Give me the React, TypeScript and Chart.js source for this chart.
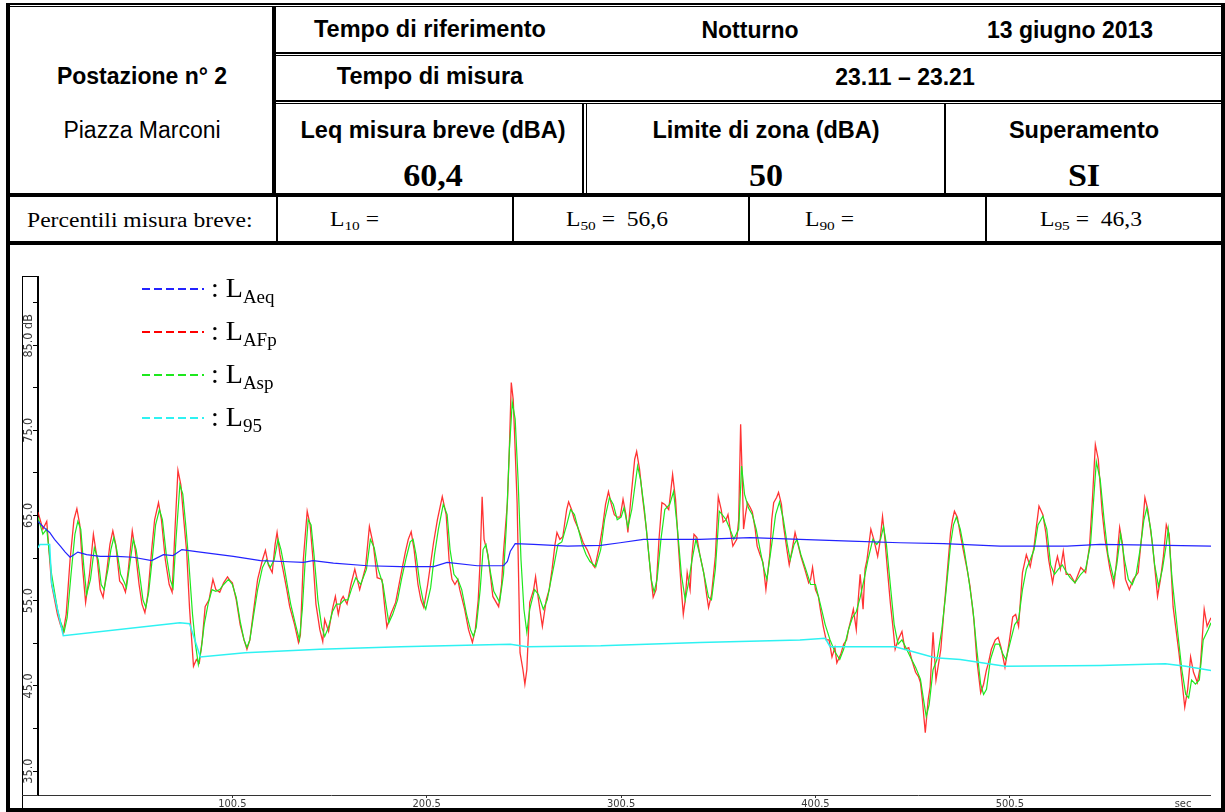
import React, { useEffect, useRef } from "react";
import { Chart, registerables } from "chart.js";

Chart.register(...registerables);

// ---------- DATA ----------
// time (s) / level (dB)
const xTickValues = [100.5, 200.5, 300.5, 400.5, 500.5];
const yTickValues = [35, 40, 45, 50, 55, 60, 65, 70, 75, 80, 85, 90];
const yLabelValues = [35, 45, 55, 65, 75, 85];
const yUnitValue = 85;
const xMin = 0.5;
const xMax = 604;
const yMin = 32.2;
const yMax = 93.1;

const seriesSubs = ["Aeq", "AFp", "Asp", "95"];
const seriesColors = ["#2323ff", "#ff0000", "#1ee81e", "#2ef2f2"];

const laeq: [number, number][] = [
  [0.5, 64.3], [3.5, 63.6], [6.5, 63.0], [9, 62.2], [12, 61.4], [14.5, 60.7], [17, 60.1], [19, 60.4],
  [21, 60.7], [25.5, 60.4], [32.5, 60.2], [41, 60.2], [49.5, 60.1], [59, 59.7], [65, 60.4], [70, 60.3],
  [74.5, 61.0], [84, 60.7], [101, 60.2], [115, 59.7], [126.5, 59.6], [137, 59.5], [142, 59.7], [152.5, 59.4],
  [170, 59.1], [187, 59.0], [204, 59.0], [211, 59.5], [226.5, 59.1], [240, 59.1], [242, 59.6], [243.5, 60.8],
  [246, 61.7], [255.5, 61.6], [273, 61.4], [290, 61.5], [300, 61.8], [312, 62.2], [341, 62.2], [367, 62.4],
  [392.5, 62.2], [418.5, 62.0], [444, 61.8], [466.5, 61.7], [495.5, 61.4], [530, 61.4], [547, 61.6],
  [581.5, 61.5], [604, 61.4],
];

const lafp: [number, number][] = [
  [0.5, 65.4], [3, 63.4], [5, 64.3], [7.5, 56.9], [10.5, 53.4], [12, 52.2], [13.5, 51.3], [15, 53.4],
  [17, 59.8], [19, 64.5], [20.5, 65.8], [22, 63.9], [23.5, 58.7], [25, 54.8], [27, 58.1], [29, 62.8],
  [31, 59.8], [32.5, 56.3], [34, 55.4], [36, 58.7], [37.5, 61.6], [39, 63.2], [40.5, 61.6], [42.5, 57.3],
  [44, 56.9], [45.5, 56.0], [47, 58.7], [49, 63.2], [50.5, 61.0], [52.5, 56.9], [54, 54.6], [55.5, 53.6],
  [57, 55.7], [59, 61.0], [60.5, 64.5], [62.5, 66.5], [64, 64.5], [66, 59.8], [68, 56.9], [69.5, 56.0],
  [71, 63.4], [72.5, 70.3], [74, 68.6], [75.5, 64.5], [77, 60.7], [78.5, 54.0], [80.5, 47.3], [82, 48.1],
  [83.5, 47.7], [85, 50.4], [86.5, 54.3], [88.5, 55.1], [90.5, 57.5], [92, 56.3], [94, 56.0], [96, 57.1],
  [98, 57.8], [99.5, 57.3], [100.5, 57.1], [102.5, 55.1], [104.5, 52.2], [106.5, 50.4], [108, 49.3],
  [109.5, 50.4], [111.5, 54.0], [113.5, 57.5], [116, 59.8], [117.5, 60.9], [119, 59.2], [121, 58.3],
  [122.5, 61.6], [123.5, 63.0], [125, 60.4], [126.5, 58.7], [128.5, 56.3], [130, 54.3], [132.5, 52.2],
  [134.5, 50.1], [135.5, 51.0], [137, 59.8], [139, 65.5], [140.5, 63.9], [142, 59.8], [143.5, 54.6],
  [145.5, 51.6], [147, 50.2], [148, 52.8], [150, 51.4], [152, 54.0], [153.5, 55.5], [155, 53.4],
  [156.5, 55.1], [157.5, 55.5], [159.5, 54.6], [161.5, 56.9], [163.5, 58.7], [166, 56.3], [169, 58.9],
  [171, 63.7], [173, 61.6], [175, 57.7], [177.5, 57.5], [179, 54.0], [180, 51.9], [182, 53.4], [184.5, 54.8],
  [187, 57.8], [189.5, 60.7], [191, 62.2], [192.5, 63.1], [194, 61.0], [196, 56.9], [197.5, 55.1],
  [199, 54.2], [201, 56.9], [204, 61.8], [206, 64.5], [208.5, 67.2], [210.5, 65.1], [212, 59.8],
  [213.5, 57.5], [215, 56.9], [216.5, 57.5], [217.5, 56.3], [220, 54.0], [222, 51.6], [224, 50.1],
  [225.5, 51.6], [227, 55.1], [228, 59.8], [229, 67.2], [230, 62.2], [232, 60.4], [233.5, 57.5],
  [234.5, 55.5], [237.5, 54.3], [239, 56.9], [240, 60.7], [242, 66.5], [243, 72.7], [244, 80.6],
  [245, 78.6], [246, 72.7], [247, 66.5], [248, 55.1], [248.5, 48.9], [250, 46.9], [251, 45.2], [252, 46.9],
  [253.5, 54.8], [255.5, 56.3], [256.5, 57.8], [258, 55.1], [260, 52.0], [262, 55.1], [263.5, 56.3],
  [265, 58.7], [266.5, 61.6], [267.5, 63.0], [269, 62.2], [270.5, 62.5], [272.5, 65.7], [273.5, 66.6],
  [275, 65.7], [276.5, 64.5], [278, 63.7], [279.5, 62.8], [281, 61.8], [283, 61.0], [284.5, 60.2],
  [286, 59.2], [287, 58.9], [289.5, 61.6], [291, 63.7], [292.5, 66.3], [294, 67.8], [295.5, 66.3],
  [297, 65.1], [298.5, 64.8], [300, 64.8], [301.5, 66.9], [303, 65.1], [304, 63.0], [305.5, 66.9],
  [307.5, 71.6], [308.5, 72.5], [310, 70.4], [311.5, 67.2], [313.5, 63.4], [315, 59.8], [316, 57.5],
  [317, 55.4], [318.5, 56.3], [320, 62.2], [321.5, 66.5], [323, 66.3], [325, 65.7], [327, 69.8],
  [328.5, 66.9], [330, 61.4], [331.5, 56.3], [332.5, 53.4], [333.5, 55.1], [334.5, 58.3], [336, 56.3],
  [337, 60.4], [338, 62.8], [339.5, 62.4], [341, 60.4], [343, 58.3], [344.5, 55.7], [345.5, 54.2],
  [347, 55.7], [349, 60.2], [350.5, 67.2], [352, 65.7], [353, 64.2], [354.5, 64.5], [355.5, 65.1],
  [357, 62.8], [358, 61.4], [360, 62.2], [361, 64.5], [362, 75.7], [363, 68.1], [363.5, 63.4],
  [364.5, 65.1], [365.5, 66.5], [367, 65.9], [368, 65.4], [369.5, 63.4], [370.5, 61.4], [372, 60.4],
  [373.5, 59.5], [375, 56.3], [377, 60.4], [378, 64.5], [379, 66.5], [380.5, 67.1], [381.5, 67.7],
  [383, 66.3], [384, 63.9], [386, 60.7], [387, 59.2], [388.5, 61.0], [390, 63.0], [391.5, 61.6],
  [393, 60.2], [395, 58.7], [397, 57.1], [398, 57.5], [399, 58.9], [400.5, 56.3], [402, 55.5], [403, 54.0],
  [404.5, 52.0], [406, 50.4], [407.5, 50.4], [409, 48.4], [410.5, 49.5], [411.5, 47.7], [413.5, 48.7],
  [415, 49.9], [416.5, 50.4], [417.5, 51.6], [419, 53.0], [420, 54.0], [421.5, 51.6], [422.5, 55.1],
  [423.5, 58.1], [425, 54.0], [426, 58.7], [427, 59.8], [428, 61.6], [429, 63.4], [430.5, 62.2],
  [432.5, 60.2], [433.5, 61.6], [435, 64.9], [436, 62.8], [437.5, 58.7], [439, 54.8], [440.5, 51.6],
  [441.5, 49.3], [443, 50.4], [445, 51.4], [446.5, 49.3], [448.5, 49.5], [450, 48.1], [452, 46.6],
  [453.5, 46.1], [454.5, 45.4], [455.5, 43.4], [457, 39.5], [458.5, 43.4], [459.5, 44.9], [461, 51.3],
  [462.5, 45.7], [465, 49.3], [466.5, 53.6], [468, 57.5], [470, 63.0], [471, 64.5], [472, 65.5],
  [473.5, 64.8], [475, 62.8], [476.5, 61.0], [478.5, 58.7], [480, 56.7], [482, 52.8], [483.5, 48.1],
  [485.5, 44.2], [487, 45.2], [488.5, 46.9], [489.5, 47.7], [491, 49.3], [493, 50.4], [494.5, 50.7],
  [496, 49.5], [498, 47.2], [500, 49.9], [502, 53.1], [503.5, 53.4], [505, 52.0], [507, 58.3], [509, 60.4],
  [511, 59.0], [513, 61.4], [514, 63.4], [515.5, 66.1], [517.5, 65.1], [519, 63.0], [520.5, 59.8],
  [522.5, 57.1], [524, 59.2], [525, 60.2], [526.5, 58.7], [528, 60.8], [529.5, 58.1], [531.5, 58.1],
  [534, 57.1], [537, 58.9], [539.5, 58.3], [541.5, 61.4], [543, 66.9], [544.5, 73.3], [546, 71.6],
  [548, 65.4], [549.5, 62.2], [552, 58.7], [554, 56.7], [555.5, 59.8], [557, 63.6], [558.5, 61.6],
  [560, 57.5], [562, 56.3], [564, 57.5], [566.5, 58.3], [568.5, 63.0], [570, 67.1], [571.5, 65.7],
  [574, 61.4], [576.5, 55.5], [578, 57.5], [579.5, 60.2], [581, 63.9], [582.5, 62.8], [584.5, 54.3],
  [587.5, 48.9], [589, 45.7], [590.5, 42.5], [592, 44.6], [593.5, 48.4], [595, 46.6], [597, 45.4],
  [598.5, 47.3], [600.5, 54.0], [602, 52.0], [604, 53.0],
];

const lasp: [number, number][] = [
  [0.5, 64.8], [3, 62.8], [5, 63.4], [7.5, 58.1], [10.5, 54.0], [12, 52.6], [14, 51.4], [15.5, 53.0],
  [17.5, 58.1], [19.5, 62.8], [21, 64.3], [22.5, 63.4], [24, 59.2], [25.5, 55.7], [27.5, 57.5],
  [29.5, 61.2], [31.5, 59.8], [33, 56.9], [34.5, 56.3], [36.5, 58.7], [38, 61.0], [39.5, 62.4], [41, 61.0],
  [43, 58.1], [45, 57.1], [46, 56.5], [47.5, 58.9], [49.5, 62.2], [51, 61.0], [53, 57.7], [54.5, 55.1],
  [56, 54.2], [57.5, 56.1], [59.5, 60.4], [61, 63.9], [63, 65.7], [64.5, 64.5], [66.5, 60.4], [68.5, 57.5],
  [70, 56.5], [71.5, 62.2], [73.5, 68.6], [75, 67.5], [76.5, 63.9], [78, 59.8], [80, 53.4], [81.5, 49.9],
  [83, 47.5], [84.5, 49.3], [86, 52.2], [88, 54.6], [90, 56.3], [92, 56.1], [94, 56.3], [96, 56.9],
  [98.5, 57.5], [100.5, 56.9], [102.5, 55.4], [104.5, 52.6], [106.5, 50.4], [108, 49.5], [109.5, 50.4],
  [111.5, 53.4], [113.5, 56.3], [116, 58.9], [118, 59.8], [120, 58.9], [122, 59.8], [124, 62.2],
  [125.5, 61.0], [127, 59.2], [129, 56.5], [130.5, 54.6], [133, 52.2], [135, 50.4], [136.5, 54.0],
  [138, 59.8], [139.5, 64.5], [141, 63.9], [142.5, 60.4], [144.5, 55.1], [146.5, 51.9], [148, 50.8],
  [150, 51.9], [152, 53.7], [154, 54.6], [156, 54.6], [158, 55.1], [160, 55.1], [162, 56.5], [164, 57.7],
  [166.5, 56.9], [169.5, 58.7], [171.5, 62.2], [173.5, 61.2], [175.5, 58.7], [178, 56.9], [179.5, 54.6],
  [181, 52.4], [183, 53.4], [185.5, 55.1], [187.5, 57.5], [190, 60.1], [192, 61.9], [193.5, 62.2],
  [195, 60.4], [197, 56.9], [199, 54.6], [200, 54.0], [202.5, 56.5], [204.5, 60.4], [206.5, 63.4],
  [209, 66.3], [211, 65.1], [212.5, 61.0], [214.5, 58.1], [216.5, 57.5], [218.5, 56.3], [221, 53.4],
  [223, 51.6], [224.5, 50.8], [226, 51.9], [228, 56.3], [229.5, 61.0], [231, 61.6], [233, 58.7],
  [235, 56.1], [238, 54.8], [240, 58.1], [241.5, 63.9], [243, 72.7], [244.5, 78.3], [246, 76.3],
  [247.5, 69.2], [249, 59.8], [250.5, 54.0], [252, 51.3], [253.5, 54.0], [256, 56.3], [258, 55.7],
  [260.5, 54.0], [262.5, 55.1], [264, 56.9], [266, 59.2], [268, 61.6], [270, 61.9], [272.5, 63.9],
  [274.5, 65.7], [276.5, 65.1], [278.5, 63.4], [280.5, 61.6], [282.5, 60.4], [284.5, 59.6], [287.5, 59.0],
  [290, 61.0], [292, 64.5], [294.5, 67.1], [296.5, 66.3], [298.5, 64.5], [300.5, 64.8], [302, 65.9],
  [304, 63.6], [306, 65.7], [309, 70.8], [310.5, 69.2], [312.5, 65.7], [314.5, 61.0], [316, 57.5],
  [317.5, 56.0], [319, 57.5], [321, 62.2], [323, 65.7], [325.5, 66.3], [327.5, 67.8], [329.5, 63.4],
  [331.5, 58.1], [333.5, 55.1], [335, 56.9], [337, 59.8], [339, 62.2], [341, 60.4], [343.5, 57.7],
  [345.5, 55.4], [347, 55.1], [349, 58.7], [351, 65.5], [352.5, 65.1], [354.5, 64.5], [356.5, 63.4],
  [358.5, 62.2], [361, 63.4], [362.5, 70.8], [364, 67.5], [366, 65.9], [368, 65.1], [370, 63.4],
  [372, 61.0], [374, 58.7], [375.5, 57.5], [378, 61.6], [380, 65.1], [382, 66.6], [384, 64.5], [386, 61.6],
  [387.5, 59.8], [389.5, 61.6], [391, 62.2], [393, 60.4], [395.5, 58.7], [398, 56.9], [400.5, 56.9],
  [403, 54.6], [405.5, 52.2], [408, 50.4], [410.5, 49.0], [413, 48.1], [415, 49.3], [417.5, 51.6],
  [419.5, 53.0], [421.5, 53.7], [423.5, 55.4], [425.5, 57.5], [427.5, 59.8], [430, 62.2], [432, 61.6],
  [434, 62.2], [435.5, 63.7], [437, 61.6], [439, 56.9], [441, 52.2], [443, 49.9], [445, 50.4], [447, 49.5],
  [449.5, 48.3], [452, 47.2], [454.5, 45.8], [456.5, 42.8], [457.5, 41.4], [459, 42.8], [461, 46.9],
  [463, 48.1], [465.5, 51.6], [467.5, 55.7], [470, 61.6], [471.5, 63.9], [473, 64.8], [475, 63.4],
  [477, 61.0], [479, 58.1], [481.5, 54.0], [483.5, 49.3], [485.5, 45.2], [487, 44.0], [488.5, 44.6],
  [490.5, 48.1], [493, 49.9], [495, 49.9], [497, 48.7], [498.5, 48.1], [501, 50.4], [503, 52.2],
  [505, 52.8], [507, 56.3], [509, 58.7], [511, 59.8], [513, 61.0], [515, 63.9], [517.5, 64.9],
  [519.5, 63.4], [521.5, 59.2], [523.5, 58.1], [525.5, 58.7], [527.5, 59.2], [529.5, 58.4], [531.5, 57.7],
  [534, 57.1], [537, 58.1], [539.5, 58.7], [542, 61.6], [544, 68.1], [545, 71.3], [547, 69.2], [549, 64.5],
  [551, 60.4], [554, 57.5], [555.5, 59.2], [557.5, 62.8], [559.5, 59.8], [561.5, 57.5], [563.5, 56.9],
  [565.5, 58.1], [567.5, 61.0], [569.5, 64.5], [571, 65.9], [573, 63.4], [575, 59.2], [577, 56.7],
  [579, 58.7], [581, 61.6], [582, 63.4], [584, 57.5], [587, 51.0], [589, 46.9], [591, 44.0], [592.5, 43.6],
  [594, 45.7], [596, 45.2], [598, 45.7], [600, 50.4], [602.5, 51.6], [604, 52.4],
];

const l95: [number, number][] = [
  [0.5, 61.2], [1.5, 61.6], [6.5, 61.6], [7.5, 57.1], [13.5, 50.9], [73.5, 52.4], [78.5, 52.3],
  [84, 48.4], [107, 48.9], [145.5, 49.3], [187, 49.6], [243.5, 49.9], [252, 49.6], [290, 49.7],
  [341, 50.1], [392.5, 50.4], [405.5, 50.6], [408, 49.6], [441.5, 49.6], [462, 48.3], [475, 48.1],
  [498, 47.3], [547, 47.4], [580.5, 47.6], [591, 47.3], [604, 46.8],
];

// ---------- STYLE ----------
const ARIAL = '"Liberation Sans", Arial, sans-serif';
const TIMES = '"Liberation Serif", "Times New Roman", serif';
const TICKFONT = '"DejaVu Sans Condensed", "Liberation Sans Narrow", "Liberation Sans", sans-serif';

const toPoints = (arr: [number, number][]) => arr.map(([x, y]) => ({ x, y }));

const framePlugin = {
  id: "frame",
  afterDraw(chart: any) {
    const { ctx, chartArea } = chart;
    const ys = chart.scales.y;
    ctx.save();
    ctx.strokeStyle = "#000";
    ctx.lineWidth = 1;
    ctx.beginPath();
    ctx.moveTo(0.5, 0);
    ctx.lineTo(0.5, chart.height);
    ctx.moveTo(0, 0.5);
    ctx.lineTo(chartArea.left, 0.5);
    ctx.stroke();
    ctx.strokeStyle = "#333";
    ctx.beginPath();
    ctx.moveTo(0, Math.round(chartArea.bottom) + 0.5);
    ctx.lineTo(chartArea.left, Math.round(chartArea.bottom) + 0.5);
    ctx.stroke();
    ctx.fillStyle = "#3a3a3a";
    ctx.font = `12.5px ${TICKFONT}`;
    for (const v of yLabelValues) {
      const py = ys.getPixelForValue(v);
      ctx.save();
      ctx.translate(chartArea.left - 9, py);
      ctx.rotate(-Math.PI / 2);
      ctx.textBaseline = "middle";
      ctx.textAlign = "left";
      const main = v.toFixed(1);
      const w = ctx.measureText(main).width;
      ctx.fillText(main + (v === yUnitValue ? " dB" : ""), -w / 2, 0);
      ctx.restore();
    }
    ctx.font = `11px ${TICKFONT}`;
    ctx.textAlign = "center";
    ctx.textBaseline = "top";
    ctx.fillText("sec", chartArea.right - 28, chartArea.bottom + 4);
    ctx.restore();
  },
};

function Rect({ x, y, w, h }: { x: number; y: number; w: number; h: number }) {
  return <div style={{ position: "absolute", left: x, top: y, width: w, height: h, background: "#000" }} />;
}

function CText(props: { cx: number; cy: number; family: string; size: number; bold?: boolean; sx?: number; children: any }) {
  const { cx, cy, family, size, bold, sx = 1, children } = props;
  return (
    <div
      style={{
        position: "absolute",
        left: cx,
        top: cy,
        transform: `translate(-50%, -50%) scaleX(${sx})`,
        fontFamily: family,
        fontSize: size,
        fontWeight: bold ? 700 : 400,
        lineHeight: 1,
        whiteSpace: "nowrap",
        color: "#000",
      }}
    >
      {children}
    </div>
  );
}

function LText(props: { x: number; cy: number; children: any }) {
  return (
    <div
      style={{
        position: "absolute",
        left: props.x,
        top: props.cy,
        transformOrigin: "0 50%",
        transform: "translateY(-50%) scaleX(1.18)",
        fontFamily: TIMES,
        fontSize: 20,
        lineHeight: 1,
        whiteSpace: "nowrap",
        color: "#000",
      }}
    >
      {props.children}
    </div>
  );
}

const sub = (t: string) => <span style={{ fontSize: 13, verticalAlign: -4 }}>{t}</span>;

export default function App() {
  const canvasRef = useRef<HTMLCanvasElement | null>(null);

  useEffect(() => {
    const canvas = canvasRef.current;
    if (!canvas) return;
    const chart = new Chart(canvas, {
      type: "line",
      data: {
        datasets: [
          { label: "LAeq", data: toPoints(laeq), borderColor: seriesColors[0], borderWidth: 1.2, pointRadius: 0, tension: 0 },
          { label: "L95", data: toPoints(l95), borderColor: seriesColors[3], borderWidth: 1.5, pointRadius: 0, tension: 0 },
          { label: "LASp", data: toPoints(lasp), borderColor: seriesColors[2], borderWidth: 1.2, pointRadius: 0, tension: 0 },
          { label: "LAFp", data: toPoints(lafp), borderColor: "rgba(255,0,0,0.8)", borderWidth: 1.3, pointRadius: 0, tension: 0 },
        ],
      },
      options: {
        animation: false,
        responsive: false,
        maintainAspectRatio: false,
        devicePixelRatio: 1,
        layout: { padding: 0 },
        plugins: { legend: { display: false }, tooltip: { enabled: false } },
        scales: {
          x: {
            type: "linear",
            min: xMin,
            max: xMax,
            afterBuildTicks: (s: any) => {
              s.ticks = xTickValues.map((v) => ({ value: v }));
            },
            afterFit: (s: any) => {
              s.height = 15;
            },
            ticks: {
              autoSkip: false,
              maxRotation: 0,
              minRotation: 0,
              padding: 0,
              color: "#3a3a3a",
              font: { family: TICKFONT, size: 11 },
              callback: (v: any) => Number(v).toFixed(1),
            },
            grid: { display: true, drawOnChartArea: false, drawTicks: true, tickLength: 3, color: "#333" },
            border: { display: true, color: "#333", width: 1 },
          },
          y: {
            type: "linear",
            min: yMin,
            max: yMax,
            afterBuildTicks: (s: any) => {
              s.ticks = yTickValues.map((v) => ({ value: v }));
            },
            afterFit: (s: any) => {
              s.width = 16;
            },
            ticks: { display: false },
            grid: { display: true, drawOnChartArea: false, drawTicks: true, tickLength: 5, color: "#000" },
            border: { display: true, color: "#000", width: 2 },
          },
        },
      },
      plugins: [framePlugin],
    });
    return () => chart.destroy();
  }, []);

  const legendRows = seriesSubs.map((s, i) => (
    <React.Fragment key={s}>
      <svg style={{ position: "absolute", left: 142, top: 286 + i * 43, width: 62, height: 6 }}>
        <line x1={0} y1={3} x2={62} y2={3} stroke={seriesColors[i]} strokeWidth={2} strokeDasharray="8 4" />
      </svg>
      <div
        style={{
          position: "absolute",
          left: 211,
          top: 275 + i * 43,
          fontFamily: TIMES,
          fontSize: 28,
          lineHeight: "26px",
          whiteSpace: "nowrap",
          color: "#000",
        }}
      >
        : L<span style={{ fontSize: 19, verticalAlign: -6 }}>{s}</span>
      </div>
    </React.Fragment>
  ));

  return (
    <div style={{ position: "fixed", left: 0, top: 0, width: 1225, height: 812, background: "#fff", overflow: "hidden" }}>
      {/* outer frame */}
      <Rect x={6} y={3} w={1219} h={2} />
      <Rect x={10} y={6} w={1211} h={1} />
      <Rect x={6} y={3} w={4} h={809} />
      <Rect x={1221} y={3} w={4} h={809} />
      <Rect x={6} y={808} w={1219} h={4} />
      {/* left column divider */}
      <Rect x={272} y={6} w={4} h={189} />
      {/* double horizontal lines */}
      <Rect x={276} y={52} w={945} h={2} />
      <Rect x={276} y={55} w={945} h={1} />
      <Rect x={276} y={100} w={945} h={2} />
      <Rect x={276} y={103} w={945} h={1} />
      {/* row 3 verticals */}
      <Rect x={582} y={103} w={2} h={91} />
      <Rect x={586} y={103} w={1} h={91} />
      <Rect x={944} y={103} w={2} h={91} />
      {/* thick lines */}
      <Rect x={6} y={193} w={1219} h={4} />
      <Rect x={6} y={241} w={1219} h={4} />
      {/* percentile row verticals */}
      <Rect x={276} y={197} w={2} h={44} />
      <Rect x={512} y={197} w={2} h={44} />
      <Rect x={748} y={197} w={2} h={44} />
      <Rect x={985} y={197} w={2} h={44} />

      {/* header texts */}
      <CText cx={142} cy={76} family={ARIAL} size={23} bold>Postazione n° 2</CText>
      <CText cx={142} cy={130} family={ARIAL} size={23}>Piazza Marconi</CText>
      <CText cx={430} cy={30} family={ARIAL} size={23.5} bold>Tempo di riferimento</CText>
      <CText cx={750} cy={30} family={ARIAL} size={23} bold>Notturno</CText>
      <CText cx={1070} cy={30} family={ARIAL} size={23} bold>13 giugno 2013</CText>
      <CText cx={430} cy={77} family={ARIAL} size={23.5} bold>Tempo di misura</CText>
      <CText cx={905} cy={77} family={ARIAL} size={23} bold>23.11 – 23.21</CText>
      <CText cx={433} cy={131} family={ARIAL} size={23.5} bold>Leq misura breve (dBA)</CText>
      <CText cx={766} cy={131} family={ARIAL} size={23.5} bold>Limite di zona (dBA)</CText>
      <CText cx={1084} cy={131} family={ARIAL} size={23.5} bold>Superamento</CText>
      <CText cx={433} cy={175} family={TIMES} size={31} bold sx={1.1}>60,4</CText>
      <CText cx={766} cy={175} family={TIMES} size={31} bold sx={1.1}>50</CText>
      <CText cx={1084} cy={175} family={TIMES} size={31} bold sx={1.1}>SI</CText>

      {/* percentile row */}
      <LText x={27} cy={220}>Percentili misura breve:</LText>
      <LText x={330} cy={220}>L{sub("10")} =</LText>
      <LText x={566} cy={220}>L{sub("50")} =&nbsp;&nbsp;56,6</LText>
      <LText x={805} cy={220}>L{sub("90")} =</LText>
      <LText x={1040} cy={220}>L{sub("95")} =&nbsp;&nbsp;46,3</LText>

      {/* chart */}
      <canvas
        ref={canvasRef}
        width={1189}
        height={534}
        style={{ position: "absolute", left: 22, top: 276, width: 1189, height: 534 }}
      />
      {legendRows}
    </div>
  );
}
